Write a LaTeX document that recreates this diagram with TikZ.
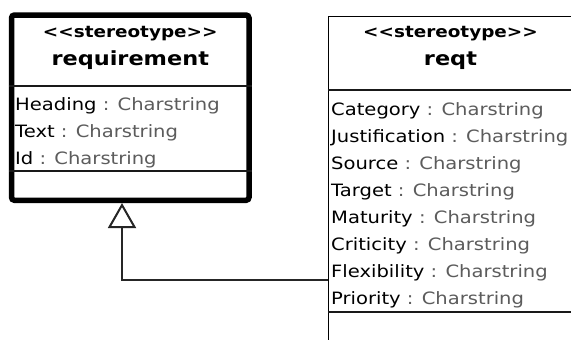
\documentclass[tikz,border=0pt]{standalone}
\usepackage{fontspec}
\setmainfont[FakeStretch=1.15]{DejaVu Sans}
\usetikzlibrary{arrows.meta,positioning,shadows}
\definecolor{typegray}{HTML}{5C5C5C}

\begin{document}
\begin{tikzpicture}[
  x=1pt, y=-1pt,
  stereo/.style={anchor=base, inner sep=0pt, font=\bfseries\fontsize{16}{18}\selectfont},
  cname/.style={anchor=base, inner sep=0pt, font=\bfseries\fontsize{19.5}{22}\selectfont},
  attr/.style={anchor=north west, inner sep=0pt, font=\fontsize{17}{20}\selectfont, text height=19pt, text depth=7.7pt},
  sep/.style={line width=1.5pt, draw=black!90},
  gen/.style={-{Triangle[open, length=25pt, width=28pt]}, line width=2pt, draw=black!85}
]
\useasboundingbox (0,0) rectangle (571,340);
\clip (0,0) rectangle (571,340);
\fill[white] (0,0) rectangle (571,340);

% class frames
\node[draw, line width=5.5pt, rounded corners=3pt, fill=white, minimum width=237.5pt, minimum height=185.3pt,
  drop shadow={shadow xshift=2pt, shadow yshift=-2pt, opacity=.25}] (req) at (130.25,107.65) {};
\node[draw, line width=1.5pt, fill=white, minimum width=244pt, minimum height=350pt] (reqt) at (450.5,191.5) {};

\draw[sep] (req.west |- 0,86) -- (req.east |- 0,86);
\draw[sep] (req.west |- 0,171) -- (req.east |- 0,171);
\draw[sep] (reqt.west |- 0,90) -- (reqt.east |- 0,90);
\draw[sep] (reqt.west |- 0,312) -- (reqt.east |- 0,312);

% requirement
\node[stereo] (st1) at (130.25,37) {{<}{<}stereotype{>}{>}};
\node[cname] (n1) at (130.25,65) {requirement};
\node[attr, anchor=base west] (a1) at (15,110) {Heading \textcolor{typegray}{: Charstring}};
\node[attr] (a2) at (a1.south west) {Text \textcolor{typegray}{: Charstring}};
\node[attr] (a3) at (a2.south west) {Id \textcolor{typegray}{: Charstring}};

% reqt
\node[stereo] (st2) at (450.5,37) {{<}{<}stereotype{>}{>}};
\node[cname] (n2) at (450.5,65) {reqt};
\node[attr, anchor=base west] (b1) at (331,115) {Category \textcolor{typegray}{: Charstring}};
\node[attr] (b2) at (b1.south west) {Justification \textcolor{typegray}{: Charstring}};
\node[attr] (b3) at (b2.south west) {Source \textcolor{typegray}{: Charstring}};
\node[attr] (b4) at (b3.south west) {Target \textcolor{typegray}{: Charstring}};
\node[attr] (b5) at (b4.south west) {Maturity \textcolor{typegray}{: Charstring}};
\node[attr] (b6) at (b5.south west) {Criticity \textcolor{typegray}{: Charstring}};
\node[attr] (b7) at (b6.south west) {Flexibility \textcolor{typegray}{: Charstring}};
\node[attr] (b8) at (b7.south west) {Priority \textcolor{typegray}{: Charstring}};

% generalization
\coordinate (bend) at (122,280);
\draw[gen] (reqt.west |- bend) -- (bend) -- (req.south -| bend);
\end{tikzpicture}
\end{document}
